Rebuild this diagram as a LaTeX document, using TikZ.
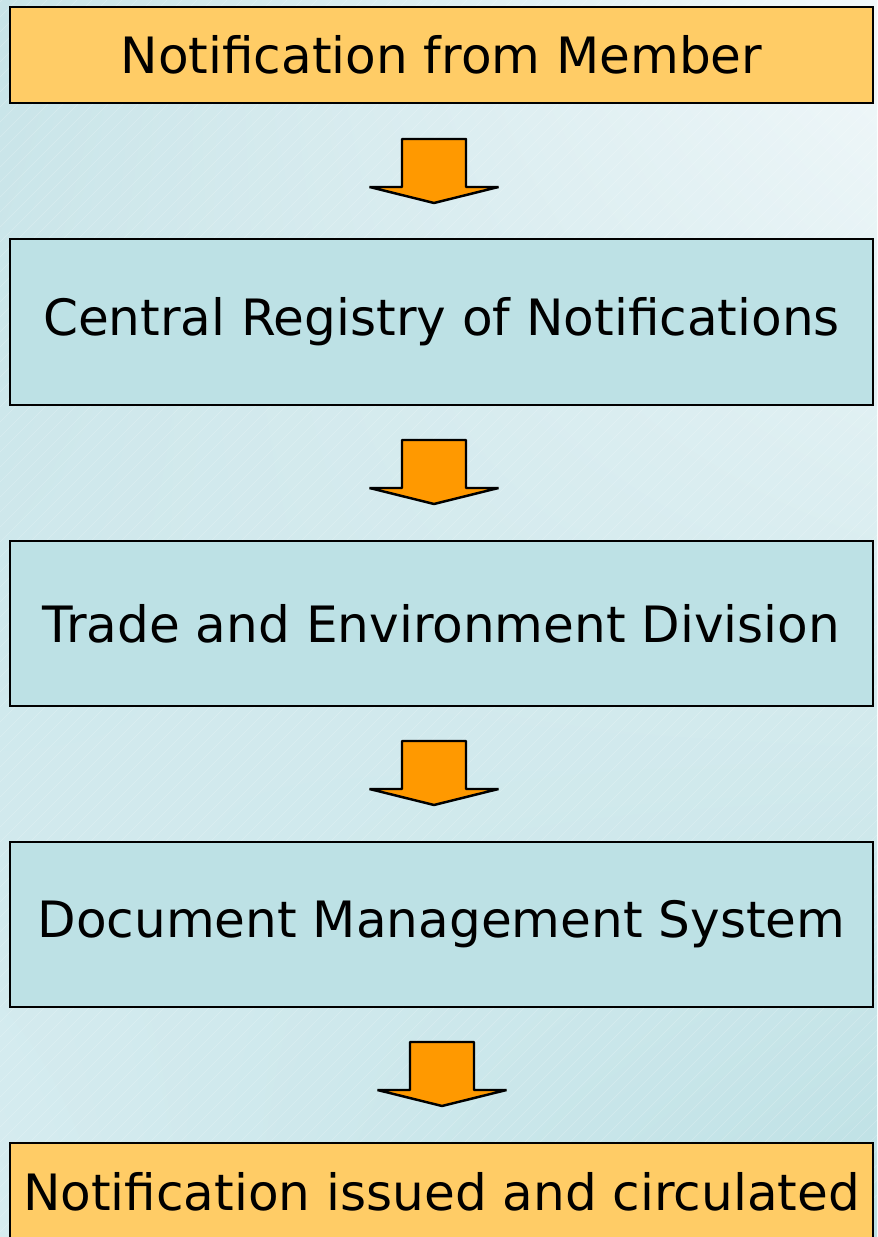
\documentclass[tikz,border=0pt]{standalone}
\usepackage{fontspec}
\usetikzlibrary{shadings}
\setmainfont{DejaVu Sans}
\definecolor{boxblue}{HTML}{BDE1E5}
\definecolor{boxorange}{HTML}{FFCC66}
\definecolor{arroworange}{HTML}{FF9900}
\definecolor{bgtopright}{HTML}{F2F8FA}
\definecolor{bgtopleft}{HTML}{C8E4E8}
\definecolor{bgbotright}{HTML}{BCE0E4}
\definecolor{bgbotleft}{HTML}{D6ECF0}
\tikzset{
  stepbox/.style={draw=black, line width=1.1pt, minimum width=17.26cm, inner sep=0pt,
    font=\fontsize{28.5}{34}\selectfont, text=black},
  flowarrow/.style={draw=black, line width=1.4pt, fill=arroworange, line join=bevel},
}
\begin{document}
\begin{tikzpicture}
% background
\useasboundingbox (0,0) rectangle (17.54,24.74);
\shade[upper right=bgtopright, upper left=bgtopleft, lower right=bgbotright, lower left=bgbotleft]
  (0,0) rectangle (17.54,24.74);
\begin{scope}
\clip (0,0) rectangle (17.54,24.74);
\foreach \k in {0,0.3,...,42}
  \draw[white, opacity=0.25, line width=0.3pt] (\k-25,0) -- ++(25,25);
\end{scope}

% Boxes
\node[stepbox, fill=boxorange, minimum height=1.92cm] (member) at (8.83,23.64) {Notification from Member};%
\node[stepbox, fill=boxblue, minimum height=3.32cm] (registry) at (8.83,18.30) {Central Registry of Notifications};%
\node[stepbox, fill=boxblue, minimum height=3.30cm] (division) at (8.83,12.27) {Trade and Environment Division};%
\node[stepbox, fill=boxblue, minimum height=3.30cm] (dms) at (8.83,6.25) {Document Management System};%
\node[stepbox, fill=boxorange, minimum height=1.94cm] (issued) at (8.83,0.91) {Notification issued and circulated};%

% Arrow tops
\coordinate (a1) at (8.68,21.96);%
\coordinate (a2) at (8.68,15.94);%
\coordinate (a3) at (8.68,9.92);%
\coordinate (a4) at (8.84,3.90);%

% Block arrows
\foreach \a in {a1,a2,a3,a4}
  \draw[flowarrow] (\a) ++(-0.64,0) -- ++(1.28,0) -- ++(0,-0.96) -- ++(0.65,0)
    -- ++(-1.29,-0.32) -- ++(-1.29,0.32) -- ++(0.65,0) -- cycle;%
\end{tikzpicture}
\end{document}
